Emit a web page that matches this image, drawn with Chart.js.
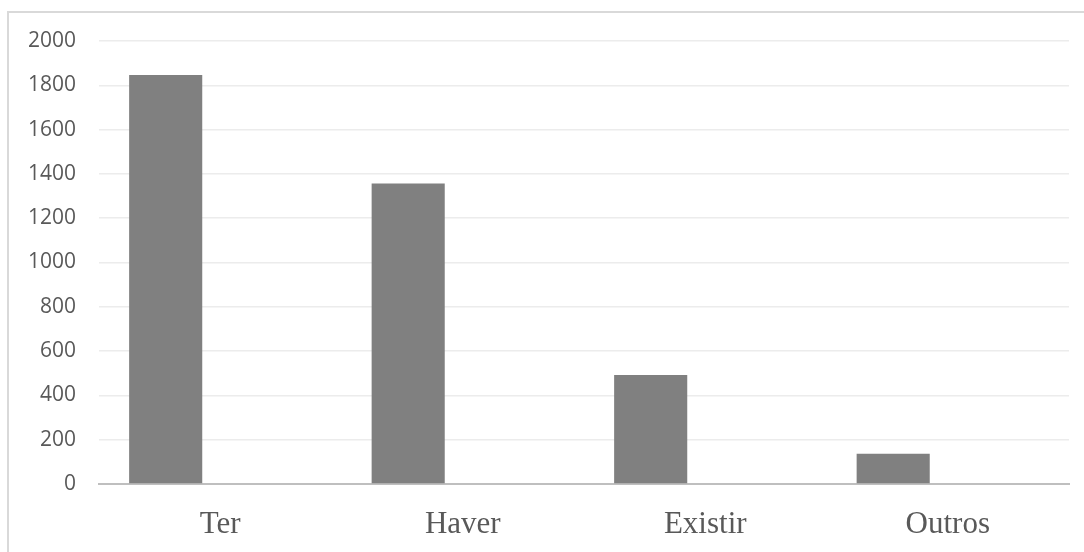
<!DOCTYPE html>
<html>
<head>
<meta charset="utf-8">
<script src="https://cdn.jsdelivr.net/npm/chart.js@4.4.0/dist/chart.umd.min.js"></script>
<style>
  body { margin: 0; background: #fff; }
  #wrap { position: relative; width: 1084px; height: 552px; overflow: hidden; }
  #frame {
    position: absolute; left: 7px; top: 11px; width: 2000px; height: 2000px;
    border-top: 2px solid #d9d9d9; border-left: 2px solid #d9d9d9;
  }
  #chart { position: absolute; left: 0; top: 0; }
</style>
</head>
<body>
<div id="wrap">
  <div id="frame"></div>
  <canvas id="chart" width="1084" height="552"></canvas>
</div>
<script>
// dados
const categorias = ['Ter', 'Haver', 'Existir', 'Outros'];
const valores = [1846, 1357, 492, 137];
const serieVazia = [0, 0, 0, 0]; // segunda série vazia (deixa a barra à esquerda)
const yMin = 0;
const yMax = 2000;
const yPasso = 200;

const ctx = document.getElementById('chart').getContext('2d');
window.myChart = new Chart(ctx, {
  type: 'bar',
  data: {
    labels: categorias,
    datasets: [{
      label: 'Série 1',
      data: valores,
      backgroundColor: '#808080',
      borderWidth: 0,
      categoryPercentage: 0.9,
      barPercentage: 0.67
    }, {
      label: 'Série 2',
      data: serieVazia,
      backgroundColor: '#a5a5a5',
      borderWidth: 0,
      categoryPercentage: 0.9,
      barPercentage: 0.67
    }]
  },
  options: {
    responsive: false,
    animation: false,
    layout: {
      padding: { left: 0, right: 15, top: 41, bottom: 0 }
    },
    plugins: {
      legend: { display: false },
      tooltip: { enabled: false }
    },
    scales: {
      x: {
        grid: { display: false, drawTicks: false },
        border: { display: true, color: '#bfbfbf', width: 2 },
        ticks: {
          padding: 22,
          color: '#595959',
          font: { family: '"Liberation Serif", "Times New Roman", serif', size: 31 }
        },
        afterFit: function (scale) { scale.height = 68; }
      },
      y: {
        min: yMin,
        max: yMax,
        grid: { color: '#ececec', lineWidth: 1.5, drawTicks: false },
        border: { display: false },
        ticks: {
          stepSize: yPasso,
          padding: 23,
          color: '#595959',
          font: { family: '"Open Sans", sans-serif', size: 21 },
          callback: function (v) { return String(v); }
        },
        afterFit: function (scale) { scale.width = 99; }
      }
    }
  }
});
</script>
</body>
</html>
